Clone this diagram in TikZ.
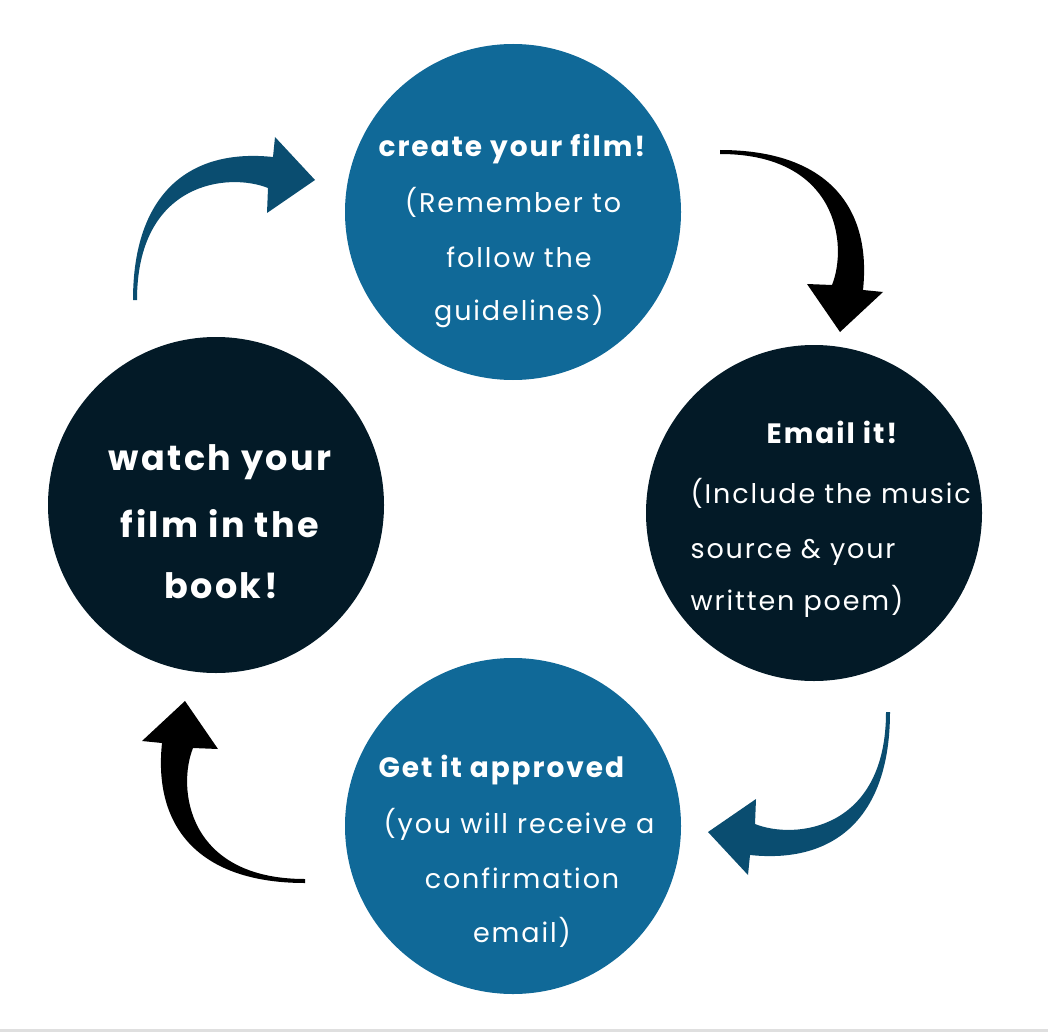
\documentclass[tikz,border=0pt]{standalone}
\usepackage{fontspec}
\newfontfamily\handfont[LetterSpace=7]{Poppins}
\definecolor{stepblue}{RGB}{16,105,152}
\definecolor{stepdark}{RGB}{3,26,39}
\definecolor{arrowblue}{RGB}{10,77,112}
\tikzset{
  stage/.style={circle, minimum size=336pt, inner sep=0pt},
  steptitle/.style={text=white, anchor=base, font=\handfont\fontsize{28}{30}\selectfont\bfseries},
  stepnote/.style={text=white, anchor=base, font=\handfont\fontsize{27}{30}\selectfont},
  stepbig/.style={text=white, anchor=base, font=\handfont\fontsize{35}{40}\selectfont\bfseries},
  pics/bendarrow/.style={code={
    \fill[#1] (0,0) .. controls (0,-105) and (55,-152) .. (140,-143)
      -- (142,-163) -- (182,-120) -- (134,-87) -- (135,-112)
      .. controls (95,-128) and (4,-118) .. (4,0) -- cycle;
  }}
}
\begin{document}
\begin{tikzpicture}[x=1pt,y=-1pt]
\useasboundingbox (0,0) rectangle (1048,1032);
\fill[gray!25] (0,1029) rectangle (1048,1032);

% the four stages
\node[stage, fill=stepblue] (film) at (513,212) {};
\node[stage, fill=stepdark] (email) at (814,513) {};
\node[stage, fill=stepblue] (approve) at (513,826) {};
\node[stage, fill=stepdark] (watch) at (216,505) {};

% texts
\node[steptitle] (film1) at (512,157) {create your film!};
\node[stepnote] (film2) at (513,213) {(Remember to};
\node[stepnote] (film3) at (519,267) {follow the};
\node[stepnote] (film4) at (519,320) {guidelines)};

\node[steptitle] (email1) at (832,443) {Email it!};
\node[stepnote, anchor=base west] (email2) at (687,503) {(Include the music};
\node[stepnote, anchor=base west] (email3) at (687,558) {source \& your};
\node[stepnote, anchor=base west] (email4) at (687,610) {written poem)};

\node[steptitle, anchor=base west] (approve1) at (375,777) {Get it approved};
\node[stepnote, anchor=base west] (approve2) at (380,833) {(you will receive a};
\node[stepnote] (approve3) at (522,888) {confirmation};
\node[stepnote] (approve4) at (522,942) {email)};

\node[stepbig] (watch1) at (220,470) {watch your};
\node[stepbig] (watch2) at (220,537) {film in the};
\node[stepbig] (watch3) at (221,598) {book!};

% arrows between the stages
\pic at (133,300) {bendarrow=arrowblue};
\pic[rotate=-90] at (720,150) {bendarrow=black};
\pic[rotate=180] at (890,712) {bendarrow=arrowblue};
\pic[rotate=90] at (305,883) {bendarrow=black};
\end{tikzpicture}
\end{document}
